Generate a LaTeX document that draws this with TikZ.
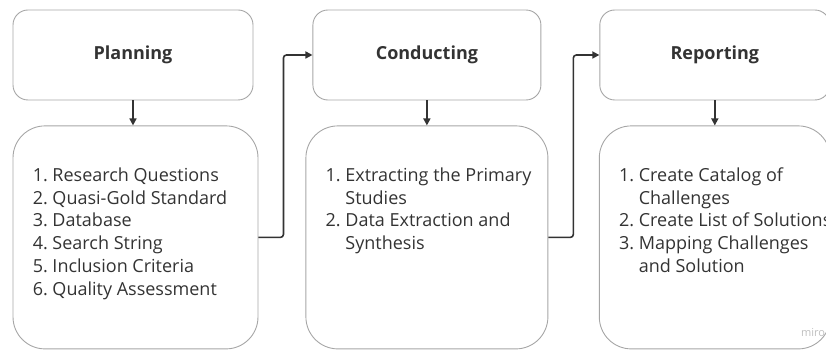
\documentclass[tikz,border=0pt]{standalone}
\usepackage{fontspec}
\setmainfont{Open Sans}
\usetikzlibrary{arrows.meta,positioning}
\definecolor{ink}{HTML}{333333}
\definecolor{rim}{HTML}{A6A6A6}

\begin{document}
\begin{tikzpicture}[x=1pt, y=1pt,
  font=\fontsize{18}{22.7}\selectfont, text=ink,
  hd/.style={draw=rim, line width=0.9pt, rounded corners=15pt, minimum height=90pt, font=\fontsize{18}{22.7}\selectfont\bfseries},
  bd/.style={draw=rim, line width=0.9pt, rounded corners=32pt, minimum height=223pt},
  it/.style={inner sep=0pt, anchor=north west},
  pf/.style={draw=ink, line width=1.6pt, rounded corners=3pt, -{Triangle[length=7pt,width=7pt]}}
]
\useasboundingbox (0,0) rectangle (826,350);
\clip (0,0) rectangle (826,350);

% phase heads
\node[hd, minimum width=240pt] (plan) at (133,295) {Planning};
\node[hd, minimum width=228pt, right=59pt of plan] (cond) {Conducting};
\node[hd, minimum width=230pt, right=58pt of cond] (rept) {Reporting};

% phase bodies
\node[bd, minimum width=245pt, below=25pt of plan, xshift=2.5pt] (planb) {};
\node[bd, minimum width=242pt, below=25pt of cond] (condb) {};
\node[bd, minimum width=231pt, below=25pt of rept] (reptb) {};

\node[it] (planit) at ([shift={(20pt,-40pt)}]planb.north west) {%
  \begin{tabular}{@{}l@{\ }l@{}}
  1. & Research Questions\\
  2. & Quasi-Gold Standard\\
  3. & Database\\
  4. & Search String\\
  5. & Inclusion Criteria\\
  6. & Quality Assessment
  \end{tabular}};
\node[it] (condit) at ([shift={(20pt,-40pt)}]condb.north west) {%
  \begin{tabular}{@{}l@{\ }l@{}}
  1. & Extracting the Primary\\
     & Studies\\
  2. & Data Extraction and\\
     & Synthesis
  \end{tabular}};
\node[it] (reptit) at ([shift={(20pt,-40pt)}]reptb.north west) {%
  \begin{tabular}{@{}l@{\ }l@{}}
  1. & Create Catalog of\\
     & Challenges\\
  2. & Create List of Solutions\\
  3. & Mapping Challenges\\
     & and Solution
  \end{tabular}};

\node[anchor=west, inner sep=0pt, text=black!25, font=\fontsize{11}{13}\selectfont] (wmark) at (801,17) {miro};

% flow
\draw[pf] (plan.south) -- (plan.south |- planb.north);
\draw[pf] (cond.south) -- (cond.south |- condb.north);
\draw[pf] (rept.south) -- (rept.south |- reptb.north);
\draw[pf] (planb.east) -- ++(25pt,0) |- (cond.west);
\draw[pf] (condb.east) -- ++(25pt,0) |- (rept.west);
\end{tikzpicture}
\end{document}
